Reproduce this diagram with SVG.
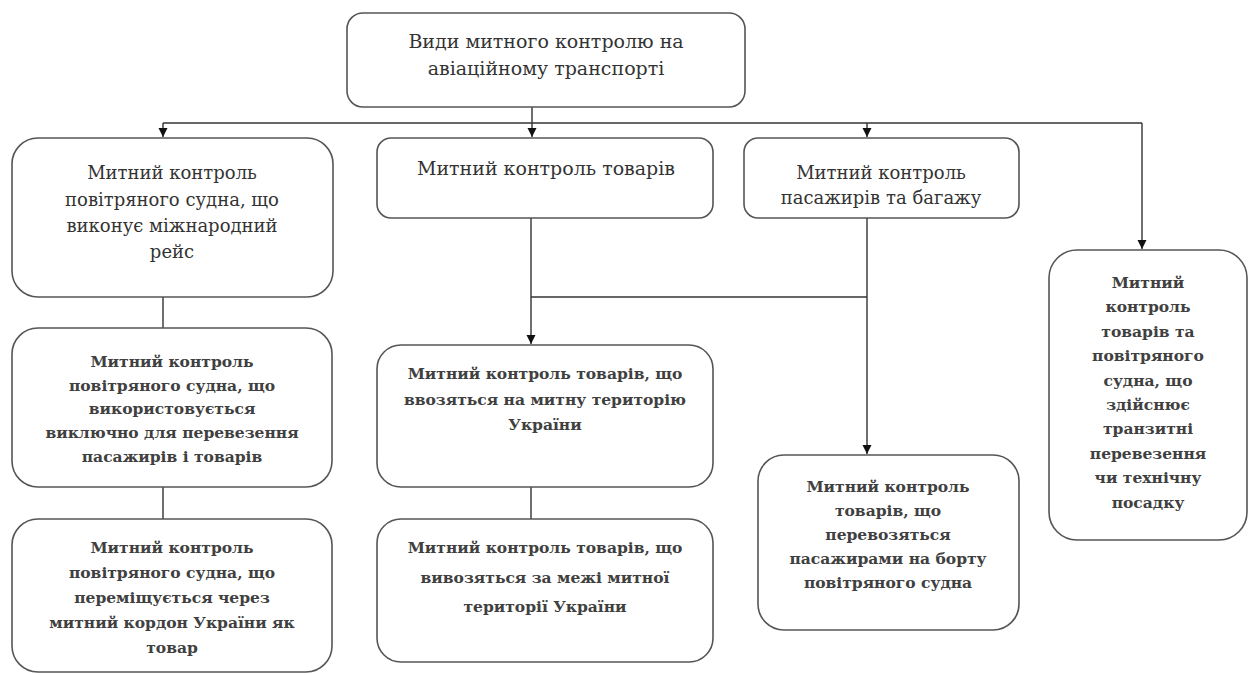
<svg xmlns="http://www.w3.org/2000/svg" width="1249" height="675" viewBox="0 0 1249 675">
<style>
.box{fill:#fff;stroke:#555;stroke-width:1.6}
.t1{font-family:"DejaVu Serif","Liberation Serif",serif;font-size:18px;fill:#333;text-anchor:middle}
.big{font-size:19px}
.t2{font-family:"DejaVu Serif","Liberation Serif",serif;font-size:15.5px;font-weight:bold;fill:#404040;text-anchor:middle}
.ln{fill:none;stroke:#333;stroke-width:1.4}
</style>
<defs>
<marker id="arr" markerWidth="10" markerHeight="10" refX="9" refY="5" orient="auto" markerUnits="userSpaceOnUse">
<path d="M0,0.5 L9,5 L0,9.5 Z" fill="#111"/>
</marker>
</defs>
<rect width="1249" height="675" fill="#fff"/>
<g id="connectors">
<path class="ln" d="M532,107 V137" marker-end="url(#arr)"/>
<path class="ln" d="M163,123 H1142"/>
<path class="ln" d="M163,123 V137" marker-end="url(#arr)"/>
<path class="ln" d="M867,123 V137" marker-end="url(#arr)"/>
<path class="ln" d="M1142,123 V249" marker-end="url(#arr)"/>
<path class="ln" d="M163,297 V328"/>
<path class="ln" d="M163,487 V519"/>
<path class="ln" d="M531,218 V344" marker-end="url(#arr)"/>
<path class="ln" d="M531,297 H867"/>
<path class="ln" d="M867,218 V454" marker-end="url(#arr)"/>
<path class="ln" d="M531,487 V519"/>
</g>
<g id="n-root">
<rect class="box" x="347" y="13" width="398" height="94" rx="16"/>
<text class="t1 big" x="546" y="48">Види митного контролю на</text>
<text class="t1 big" x="546" y="75">авіаційному транспорті</text>
</g>
<g id="n-a">
<rect class="box" x="12" y="138" width="321" height="159" rx="26"/>
<text class="t1" x="172" y="179">Митний контроль</text>
<text class="t1" x="172" y="206">повітряного судна, що</text>
<text class="t1" x="172" y="232">виконує міжнародний</text>
<text class="t1" x="172" y="258">рейс</text>
</g>
<g id="n-b">
<rect class="box" x="12" y="328" width="320" height="159" rx="26"/>
<text class="t2" x="172" y="367">Митний контроль</text>
<text class="t2" x="172" y="391">повітряного судна, що</text>
<text class="t2" x="172" y="414">використовується</text>
<text class="t2" x="172" y="438">виключно для перевезення</text>
<text class="t2" x="172" y="462">пасажирів і товарів</text>
</g>
<g id="n-c">
<rect class="box" x="12" y="519" width="320" height="153" rx="26"/>
<text class="t2" x="172" y="553">Митний контроль</text>
<text class="t2" x="172" y="578">повітряного судна, що</text>
<text class="t2" x="172" y="603">переміщується через</text>
<text class="t2" x="172" y="628">митний кордон України як</text>
<text class="t2" x="172" y="653">товар</text>
</g>
<g id="n-d">
<rect class="box" x="377" y="138" width="336" height="80" rx="14"/>
<text class="t1 big" x="546" y="175">Митний контроль товарів</text>
</g>
<g id="n-e">
<rect class="box" x="744" y="138" width="275" height="80" rx="14"/>
<text class="t1" x="881" y="179">Митний контроль</text>
<text class="t1" x="881" y="204">пасажирів та багажу</text>
</g>
<g id="n-g">
<rect class="box" x="377" y="345" width="336" height="142" rx="24"/>
<text class="t2" x="545" y="379">Митний контроль товарів, що</text>
<text class="t2" x="545" y="405">ввозяться на митну територію</text>
<text class="t2" x="545" y="430">України</text>
</g>
<g id="n-h">
<rect class="box" x="377" y="519" width="336" height="143" rx="24"/>
<text class="t2" x="545" y="553">Митний контроль товарів, що</text>
<text class="t2" x="545" y="583">вивозяться за межі митної</text>
<text class="t2" x="545" y="612">території України</text>
</g>
<g id="n-f">
<rect class="box" x="758" y="455" width="261" height="175" rx="26"/>
<text class="t2" x="888" y="492">Митний контроль</text>
<text class="t2" x="888" y="516">товарів, що</text>
<text class="t2" x="888" y="540">перевозяться</text>
<text class="t2" x="888" y="564">пасажирами на борту</text>
<text class="t2" x="888" y="588">повітряного судна</text>
</g>
<g id="n-i">
<rect class="box" x="1049" y="250" width="198" height="290" rx="28"/>
<text class="t2" x="1148" y="288">Митний</text>
<text class="t2" x="1148" y="312">контроль</text>
<text class="t2" x="1148" y="337">товарів та</text>
<text class="t2" x="1148" y="361">повітряного</text>
<text class="t2" x="1148" y="386">судна, що</text>
<text class="t2" x="1148" y="410">здійснює</text>
<text class="t2" x="1148" y="434">транзитні</text>
<text class="t2" x="1148" y="459">перевезення</text>
<text class="t2" x="1148" y="483">чи технічну</text>
<text class="t2" x="1148" y="508">посадку</text>
</g>
</svg>
